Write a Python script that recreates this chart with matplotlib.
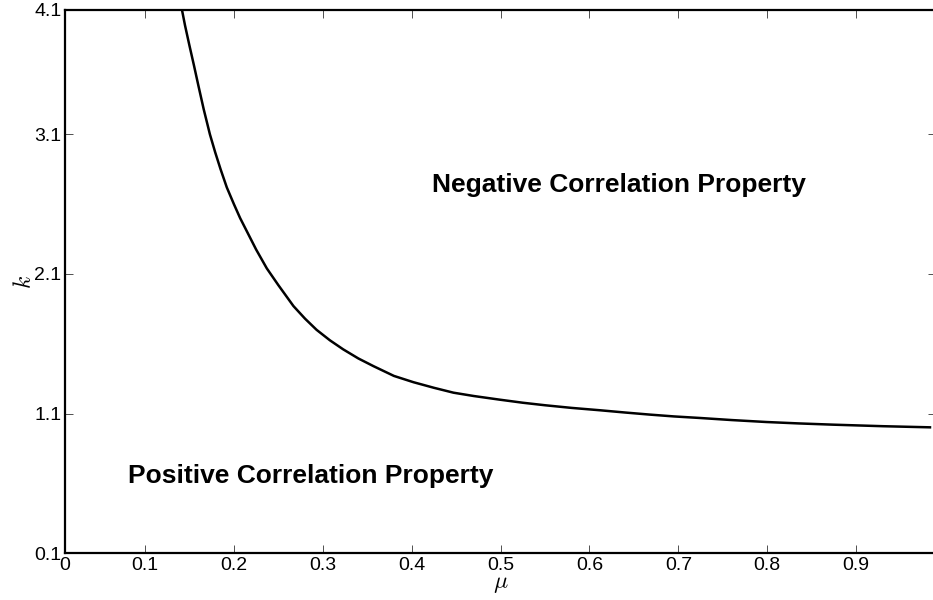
import matplotlib
matplotlib.use("Agg")
import matplotlib.pyplot as plt

plt.rcParams['font.family'] = ['Liberation Sans', 'DejaVu Sans']
plt.rcParams['mathtext.fontset'] = 'cm'

# Boundary curve k(mu)
mu = [0.1413, 0.145, 0.150, 0.155, 0.160, 0.166, 0.173, 0.179, 0.185, 0.192,
      0.200, 0.207, 0.215, 0.225, 0.237, 0.250, 0.267, 0.280, 0.293, 0.308,
      0.323, 0.340, 0.357, 0.380, 0.402, 0.425, 0.447, 0.470, 0.499, 0.525,
      0.550, 0.580, 0.612, 0.640, 0.668, 0.695, 0.724, 0.760, 0.799, 0.835,
      0.874, 0.930, 0.983]
k = [4.00, 3.88, 3.735, 3.595, 3.45, 3.28, 3.10, 2.97, 2.85, 2.72,
     2.60, 2.50, 2.40, 2.275, 2.14, 2.02, 1.87, 1.78, 1.70, 1.625,
     1.56, 1.495, 1.44, 1.37, 1.325, 1.285, 1.25, 1.226, 1.20, 1.178,
     1.16, 1.141, 1.124, 1.108, 1.093, 1.080, 1.069, 1.054, 1.040, 1.030,
     1.021, 1.010, 1.002]

xtick_pos = [0.01, 0.1, 0.2, 0.3, 0.4, 0.5, 0.6, 0.7, 0.8, 0.9]
xtick_labels = ['0', '0.1', '0.2', '0.3', '0.4', '0.5', '0.6', '0.7', '0.8', '0.9']
ytick_pos = [0.1, 1.1, 2.1, 3.1, 3.99]
ytick_labels = ['0.1', '1.1', '2.1', '3.1', '4.1']

W, H = 933, 600
fig = plt.figure(figsize=(W / 100, H / 100), dpi=100)
left, right, top, bottom = 65, 936.2, 10, 553.3
ax = fig.add_axes([left / W, (H - bottom) / H, (right - left) / W, (bottom - top) / H])

ax.plot(mu, k, color='black', lw=1.8, solid_joinstyle='round')

ax.set_xlim(0.01, 0.99)
ax.set_ylim(0.1, 3.99)
ax.set_xticks(xtick_pos)
ax.set_xticklabels(xtick_labels)
ax.set_yticks(ytick_pos)
ax.set_yticklabels(ytick_labels)

ax.tick_params(direction='in', length=6, width=0.6, labelsize=14,
               top=True, right=True, color='#333333')
ax.tick_params(axis='x', pad=3)
ax.tick_params(axis='y', pad=2.5)
for s in ax.spines.values():
    s.set_linewidth(1.6)

ax.set_xlabel(r'$\mu$', fontsize=17, labelpad=-1)
ax.set_ylabel(r'$k$', fontsize=17, labelpad=-1)

ax.text(0.4228, 2.739, 'Negative Correlation Property', fontsize=19,
        fontweight='bold', ha='left', va='center')
ax.text(0.0809, 0.651, 'Positive Correlation Property', fontsize=19,
        fontweight='bold', ha='left', va='center')

fig.savefig('out.png', dpi=100)
